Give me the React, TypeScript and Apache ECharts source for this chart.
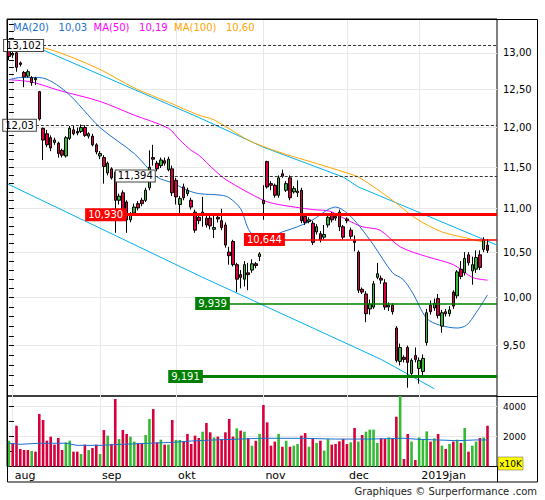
import React, { useEffect, useRef } from "react";
import * as echarts from "echarts";

const FONT = "DejaVu Sans";

// x positions are trading-day indices (0 = 31 Jul 2018)
const monthStartIdx = [1, 24, 44, 67, 89, 108];
const monthLabels = ["aug", "sep", "okt", "nov", "dec", "2019jan"];
const X_MIN = -0.5;
const X_MAX = 128.5;

const PRICE_MIN = 9.0;
const PRICE_MAX = 13.48;
const priceTicks = [9.5, 10, 10.5, 11, 11.5, 12, 12.5, 13];
const priceMinorTicks = [
  9.1, 9.2, 9.3, 9.4, 9.6, 9.7, 9.8, 9.9, 10.1, 10.2, 10.3, 10.4, 10.6, 10.7, 10.8, 10.9,
  11.1, 11.2, 11.3, 11.4, 11.6, 11.7, 11.8, 11.9, 12.1, 12.2, 12.3, 12.4, 12.6, 12.7, 12.8, 12.9,
  13.1, 13.2, 13.3, 13.4,
];
const VOL_MAX = 4700;
const volumeTicks = [2000, 4000];
const volumeMinorTicks = [1000, 3000];

// [open, close, low, high]
const candles = [
  [13.05, 12.95, 12.9, 13.1], [12.97, 12.99, 12.93, 13.02], [13.0, 12.8, 12.74, 13.02], [12.86, 12.84, 12.81, 12.88],
  [12.73, 12.67, 12.53, 12.75], [12.68, 12.74, 12.66, 12.77], [12.66, 12.59, 12.55, 12.68], [12.63, 12.65, 12.56, 12.67],
  [12.47, 12.11, 12.09, 12.48], [11.99, 11.84, 11.59, 12.0], [11.92, 11.78, 11.75, 11.97], [11.87, 11.74, 11.7, 11.9],
  [11.81, 11.84, 11.78, 11.87], [11.8, 11.67, 11.62, 11.82], [11.71, 11.65, 11.62, 11.73], [11.64, 11.87, 11.62, 11.89],
  [11.86, 11.99, 11.84, 12.02], [11.97, 11.92, 11.9, 12.03], [11.95, 11.93, 11.9, 12.0], [11.95, 12.0, 11.93, 12.04],
  [12.0, 11.9, 11.88, 12.03], [11.89, 11.92, 11.86, 11.94], [11.89, 11.78, 11.76, 11.92], [11.78, 11.69, 11.66, 11.8],
  [11.64, 11.67, 11.6, 11.7], [11.62, 11.51, 11.3, 11.65], [11.43, 11.55, 11.4, 11.57], [11.48, 11.37, 11.35, 11.5],
  [11.44, 11.1, 10.72, 11.46], [11.1, 11.15, 11.05, 11.18], [11.19, 10.99, 10.95, 11.22], [11.08, 10.87, 10.72, 11.1],
  [10.87, 10.93, 10.84, 10.96], [10.95, 11.02, 10.92, 11.06], [11.06, 11.01, 10.98, 11.09], [11.1, 11.06, 11.03, 11.13],
  [11.1, 11.22, 11.08, 11.25], [11.25, 11.5, 11.22, 11.71], [11.62, 11.6, 11.52, 11.78], [11.55, 11.48, 11.45, 11.58],
  [11.52, 11.59, 11.49, 11.62], [11.58, 11.55, 11.52, 11.62], [11.47, 11.6, 11.45, 11.63], [11.48, 11.19, 11.15, 11.52],
  [11.34, 11.14, 11.05, 11.37], [11.05, 11.12, 10.93, 11.15], [11.26, 11.13, 11.1, 11.3], [11.18, 11.22, 11.15, 11.25],
  [11.1, 11.02, 10.99, 11.13], [10.96, 10.75, 10.72, 10.99], [10.9, 10.86, 10.82, 10.93], [10.93, 10.96, 10.79, 11.14],
  [10.89, 10.81, 10.78, 10.92], [10.89, 10.8, 10.76, 10.92], [10.76, 10.78, 10.66, 10.94], [10.9, 10.88, 10.84, 10.93],
  [10.86, 10.78, 10.75, 11.0], [10.81, 10.58, 10.55, 10.84], [10.5, 10.46, 10.36, 10.56], [10.62, 10.36, 10.34, 10.64],
  [10.36, 10.2, 10.06, 10.38], [10.25, 10.22, 10.1, 10.3], [10.2, 10.36, 10.12, 10.4], [10.27, 10.25, 10.08, 10.38],
  [10.3, 10.37, 10.27, 10.42], [10.37, 10.35, 10.32, 10.39], [10.45, 10.48, 10.4, 10.5], [11.1, 11.06, 10.87, 11.28],
  [11.57, 11.26, 11.24, 11.58], [11.3, 11.28, 11.22, 11.33], [11.28, 11.16, 11.13, 11.3], [11.16, 11.37, 11.13, 11.4],
  [11.42, 11.39, 11.37, 11.47], [11.22, 11.3, 11.2, 11.33], [11.37, 11.13, 11.1, 11.4], [11.2, 11.24, 11.18, 11.27],
  [11.19, 11.21, 11.14, 11.34], [11.22, 10.86, 10.83, 11.25], [10.91, 10.84, 10.81, 10.94], [10.85, 10.87, 10.83, 10.9],
  [10.83, 10.61, 10.58, 10.86], [10.73, 10.79, 10.7, 10.82], [10.71, 10.64, 10.61, 10.74], [10.67, 10.7, 10.64, 10.81],
  [10.81, 10.9, 10.78, 10.93], [10.93, 10.87, 10.84, 10.96], [10.91, 10.89, 10.86, 10.94], [10.96, 10.79, 10.74, 10.99],
  [10.79, 10.67, 10.64, 10.81], [10.88, 10.86, 10.83, 10.9], [10.75, 10.68, 10.65, 10.78], [10.63, 10.61, 10.51, 10.69],
  [10.5, 10.08, 10.05, 10.52], [10.09, 10.06, 10.04, 10.11], [10.04, 9.83, 9.74, 10.07], [9.88, 9.93, 9.82, 9.98],
  [9.9, 10.15, 9.88, 10.18], [10.22, 10.26, 10.2, 10.38], [10.21, 10.19, 10.15, 10.24], [10.16, 9.9, 9.87, 10.2],
  [9.9, 9.92, 9.86, 9.95], [9.92, 9.85, 9.82, 9.94], [9.68, 9.35, 9.33, 9.7], [9.34, 9.48, 9.3, 9.52],
  [9.38, 9.36, 9.33, 9.4], [9.48, 9.33, 9.08, 9.5], [9.22, 9.35, 9.2, 9.37], [9.4, 9.36, 9.33, 9.48],
  [9.27, 9.35, 9.12, 9.38], [9.24, 9.37, 9.2, 9.41], [9.53, 9.84, 9.5, 9.88], [9.92, 9.85, 9.82, 9.97],
  [9.89, 9.94, 9.86, 9.99], [9.99, 9.81, 9.78, 10.04], [9.7, 9.84, 9.63, 9.87], [9.85, 9.83, 9.8, 9.88],
  [9.83, 9.87, 9.8, 9.91], [10.06, 9.91, 9.88, 10.08], [10.02, 10.28, 9.99, 10.3], [10.31, 10.23, 10.2, 10.4],
  [10.27, 10.43, 10.24, 10.5], [10.47, 10.38, 10.35, 10.5], [10.29, 10.36, 10.14, 10.45], [10.31, 10.44, 10.27, 10.52],
  [10.47, 10.33, 10.3, 10.52], [10.53, 10.64, 10.5, 10.67], [10.58, 10.52, 10.49, 10.65],
];

// volume in units of 10K shares
const volumes = [
  1720, 1570, 2720, 1170, 1100, 1100, 1030, 990, 3500, 3100,
  1720, 1990, 1460, 1900, 1100, 1610, 1720, 990, 990, 830,
  1460, 1100, 1230, 1460, 830, 2430, 2060, 1500, 4500, 1830,
  2430, 2170, 1990, 1660, 1570, 1570, 2100, 3170, 3830, 1610,
  1790, 1460, 1460, 3100, 1770, 1770, 1680, 2170, 1500, 2060,
  1900, 2320, 2900, 2280, 1940, 1990, 1830, 2280, 3170, 1990,
  2540, 2390, 2320, 1900, 1390, 1720, 2170, 4100, 2940, 1390,
  1660, 2170, 1320, 1720, 1320, 1390, 1500, 2060, 2230, 1320,
  1830, 1570, 1720, 1060, 1830, 1460, 1500, 1680, 1830, 1500,
  1610, 2570, 1660, 2100, 2320, 2460, 2460, 1570, 1880, 1830,
  1940, 1880, 3320, 4830, 500, 2170, 1660, 430, 1940, 1830,
  2340, 1660, 1880, 2170, 1390, 1170, 1500, 1660, 1790, 1570,
  2570, 990, 1390, 1660, 1900, 1940, 2720,
];
// g = up day, r = down day
const volumeDirs = (
  "grrrrrgrrr" + "rrrrrggrrg" + "rgrrgrgrrg" + "rrggrrggrr" + "grgrggrrrr" +
  "rgrrgrrrrr" + "grgrgrgrrr" + "rgrgrggrrg" + "rgrggrrrrr" + "grgrggggrr" +
  "grrgrrgrgg" + "grgrgrgrgr" + "grggrgr"
).split("");

const volumeMA = [
  [0, 1550], [3, 1480], [8, 1550], [15, 1550], [18, 1410], [24, 1410], [30, 1480], [37, 1550],
  [43, 1610], [48, 1700], [54, 1770], [59, 1810], [66, 1880], [71, 1880], [77, 1880], [86, 1830],
  [95, 1830], [104, 1880], [108, 1810], [113, 1770], [118, 1720], [123, 1770], [126, 1770],
];

const ma20 = [
  [0, 12.63], [3, 12.66], [8, 12.66], [15, 12.47], [24, 12.0], [33, 11.67], [39, 11.38], [43, 11.31],
  [47, 11.22], [50, 11.18], [56, 11.16], [58, 11.13], [61, 11.0], [63.5, 10.73], [67, 10.65], [72, 10.73],
  [76, 10.79], [80, 10.87], [84, 10.99], [86, 11.02], [89, 10.95], [92.4, 10.79], [96, 10.58], [101, 10.27],
  [103.7, 10.2], [106.3, 10.05], [110, 9.78], [113.4, 9.71], [118, 9.68], [120.5, 9.71], [123, 9.84], [126, 10.03],
];
const ma50 = [
  [0, 12.63], [6, 12.6], [13, 12.49], [24, 12.34], [33, 12.16], [42, 11.99], [45, 11.84], [48, 11.71],
  [50, 11.65], [54, 11.47], [57.4, 11.34], [67, 11.1], [71, 11.05], [80, 10.99], [84.5, 10.97], [89, 10.87],
  [93, 10.79], [97.7, 10.75], [103, 10.56], [110, 10.45], [117, 10.36], [122, 10.22], [126, 10.19],
];
const ma100 = [
  [0, 13.13], [9, 13.07], [15, 12.97], [24, 12.77], [33, 12.52], [42, 12.33], [50, 12.16], [54, 12.1],
  [63, 11.84], [71, 11.69], [80, 11.56], [89, 11.43], [92.4, 11.37], [101, 11.1], [107, 10.89], [114, 10.73],
  [120.5, 10.66], [126, 10.6],
];
const channelUpper = [[-0.5, 13.16], [9, 13.04], [50, 12.13], [67, 11.75], [88, 11.38], [92, 11.26], [128.5, 10.58]];
const channelLower = [[-0.5, 11.3], [51, 10.22], [98, 9.36], [112, 9.07]];

// horizontal levels and the trading day from which each is drawn
const levelValues = ["13.102", "12.03", "11.394", "10.930", "10.644", "9.939", "9.191"];
const levelStart = [9, 7.1, 38.4, 30.6, 72.4, 57.9, 50.8];

const C20 = "#1a70d0";
const C50 = "#ff00ff";
const C100 = "#ffa500";
const CCH = "#00b0f0";
const UP = "#33bb33";
const DOWN = "#d8003c";
const GRID = "#e8e8e8";

const comma = (s: string) => s.replace(".", ",");
const fmt2 = (v: number) => comma(v.toFixed(2));
const last = (a: number[][]) => a[a.length - 1][1];
const lnPairs = (a: number[][]) => a.map(([i, v]) => [i, Math.log(v)]);

const levelStyles = [
  { kind: "dash" }, { kind: "dash" }, { kind: "dash" },
  { kind: "red", w: 3 }, { kind: "red", w: 1.5 }, { kind: "green", w: 1.5 }, { kind: "green", w: 3 },
];

function buildOption() {
  const lnMin = Math.log(PRICE_MIN);
  const lnMax = Math.log(PRICE_MAX);
  const lnTicks = priceTicks.map(Math.log);
  const lnMinor = priceMinorTicks.map(Math.log);

  const markData = levelValues.map((s, k) => {
    const v = parseFloat(s);
    const st = levelStyles[k];
    const isDash = st.kind === "dash";
    const col = st.kind === "red" ? "#ff0000" : st.kind === "green" ? "#008000" : "#333";
    return [
      {
        coord: [levelStart[k], Math.log(v)],
        lineStyle: isDash
          ? { color: "#333", width: 1, type: [3, 2] }
          : { color: col, width: st.w, type: "solid" },
        label: {
          show: true,
          position: "start",
          distance: 0,
          formatter: comma(s),
          fontFamily: FONT,
          fontSize: 10,
          color: isDash ? "#000" : "#fff",
          backgroundColor: isDash ? "#fff" : col,
          borderColor: isDash ? "#444" : col,
          borderWidth: 1,
          padding: [1, 2, 0, 2],
        },
      },
      { coord: [X_MAX, Math.log(v)] },
    ];
  });

  const lineSeries = (name: string, data: number[][], color: string, extra: any = {}) => ({
    name,
    type: "line",
    xAxisIndex: 0,
    yAxisIndex: 0,
    data: lnPairs(data),
    showSymbol: false,
    symbol: "none",
    smooth: 0.3,
    lineStyle: { color, width: 1 },
    z: 2,
    silent: true,
    ...extra,
  });

  const legendText =
    `{a|MA(20)   ${fmt2(last(ma20))}}  {b|MA(50)   ${fmt2(last(ma50))}}  {c|MA(100)   ${fmt2(last(ma100))}}`;

  return {
    animation: false,
    backgroundColor: "#fff",
    grid: [
      { left: 7, top: 19, width: 490, height: 377, show: true, borderColor: "#000", borderWidth: 1, backgroundColor: "transparent" },
      { left: 7, top: 396, width: 490, height: 70.5, show: true, borderColor: "#000", borderWidth: 1, backgroundColor: "transparent" },
    ],
    xAxis: [
      {
        gridIndex: 0, type: "value", min: X_MIN, max: X_MAX,
        axisLine: { show: false },
        axisTick: { show: false, customValues: monthStartIdx },
        axisLabel: { show: false },
        splitLine: { show: true, lineStyle: { color: GRID, width: 1 } },
      },
      {
        gridIndex: 1, type: "value", min: X_MIN, max: X_MAX,
        axisLine: { show: false },
        axisTick: { show: false, customValues: monthStartIdx },
        axisLabel: {
          show: true,
          customValues: monthStartIdx,
          formatter: (v: number) => monthLabels[monthStartIdx.indexOf(Math.round(v))] || "",
          align: "left",
          margin: 3,
          padding: [0, 0, 0, 2],
          fontSize: 11,
          fontFamily: FONT,
          color: "#000",
        },
        splitLine: { show: true, lineStyle: { color: GRID, width: 1 } },
      },
    ],
    yAxis: [
      {
        gridIndex: 0, type: "value", position: "right", min: lnMin, max: lnMax,
        axisLine: { show: false },
        axisTick: { show: true, length: 5, customValues: [...lnTicks, ...lnMinor], lineStyle: { color: "#000" } },
        axisLabel: {
          customValues: lnTicks,
          formatter: (v: number) => fmt2(Math.exp(v)),
          margin: 6, fontSize: 10, fontFamily: FONT, color: "#000",
        },
        splitLine: { show: false },
      },
      {
        gridIndex: 0, type: "value", position: "left", min: lnMin, max: lnMax,
        axisLine: { show: false },
        axisTick: { show: false, customValues: lnTicks },
        axisLabel: { show: false },
        splitLine: { show: true, lineStyle: { color: GRID, width: 1 } },
      },
      {
        gridIndex: 1, type: "value", position: "right", min: 0, max: VOL_MAX,
        axisLine: { show: false },
        axisTick: { show: true, length: 5, customValues: [...volumeTicks, ...volumeMinorTicks], lineStyle: { color: "#000" } },
        axisLabel: {
          customValues: volumeTicks,
          formatter: (v: number) => String(Math.round(v)),
          margin: 6, fontSize: 9, fontFamily: FONT, color: "#000",
        },
        splitLine: { show: false },
      },
      {
        gridIndex: 1, type: "value", position: "left", min: 0, max: VOL_MAX,
        axisLine: { show: false },
        axisTick: { show: false, customValues: volumeTicks },
        axisLabel: { show: false },
        splitLine: { show: true, lineStyle: { color: GRID, width: 1 } },
      },
    ],
    series: [
      lineSeries("channelUpper", channelUpper, CCH, { smooth: false }),
      lineSeries("channelLower", channelLower, CCH, { smooth: false }),
      lineSeries("MA100", ma100, C100, {
        markLine: { silent: true, symbol: ["none", "none"], animation: false, data: markData },
      }),
      lineSeries("MA50", ma50, C50),
      lineSeries("MA20", ma20, C20),
      {
        name: "price",
        type: "candlestick",
        xAxisIndex: 0,
        yAxisIndex: 0,
        barWidth: 3,
        z: 3,
        silent: true,
        dimensions: ["x", "open", "close", "low", "high"],
        encode: { x: "x", y: ["open", "close", "low", "high"] },
        data: candles.map((c, i) => [i, ...c.map(Math.log)]),
        itemStyle: { color: UP, color0: DOWN, borderColor: "#000", borderColor0: "#000", borderWidth: 1 },
      },
      {
        name: "volume",
        type: "bar",
        xAxisIndex: 1,
        yAxisIndex: 2,
        barWidth: 2.6,
        silent: true,
        data: volumes.map((v, i) => ({
          value: [i, v],
          itemStyle: { color: volumeDirs[i] === "g" ? UP : DOWN },
        })),
      },
      {
        name: "volumeMA",
        type: "line",
        xAxisIndex: 1,
        yAxisIndex: 2,
        data: volumeMA,
        symbol: "none",
        lineStyle: { color: C20, width: 1 },
        silent: true,
        z: 4,
      },
    ],
    graphic: [
      { type: "rect", silent: true, z: 100, shape: { x: 7.5, y: 19.5, width: 530, height: 462.5 }, style: { fill: "none", stroke: "#000", lineWidth: 1 } },
      { type: "line", silent: true, z: 100, shape: { x1: 497.5, y1: 466, x2: 497.5, y2: 482 }, style: { stroke: "#000", lineWidth: 1 } },
      { type: "line", silent: true, z: 100, shape: { x1: 497, y1: 396.5, x2: 538, y2: 396.5 }, style: { stroke: "#000", lineWidth: 1 } },
      {
        type: "text", silent: true, z: 101, x: 13, y: 27,
        style: {
          text: legendText,
          font: `10px "${FONT}"`,
          fill: "#000",
          verticalAlign: "middle",
          textVerticalAlign: "middle",
          align: "left",
          textAlign: "left",
          rich: {
            a: { fill: C20, fontSize: 10, fontFamily: FONT },
            b: { fill: C50, fontSize: 10, fontFamily: FONT },
            c: { fill: C100, fontSize: 10, fontFamily: FONT },
          },
        },
      },
      { type: "rect", silent: true, z: 100, shape: { x: 498, y: 457, width: 25, height: 13 }, style: { fill: "#ffff00", stroke: "#555", lineWidth: 0.5 } },
      { type: "text", silent: true, z: 101, x: 510.5, y: 463.5, style: { text: "x10K", fill: "#000", font: `9px "${FONT}"`, align: "center", verticalAlign: "middle", textAlign: "center", textVerticalAlign: "middle" } },
      { type: "text", silent: true, z: 101, x: 537, y: 491, style: { text: "Graphiques © Surperformance .com", fill: "#222", font: `10px "${FONT}"`, align: "right", verticalAlign: "middle", textAlign: "right", textVerticalAlign: "middle" } },
    ],
  };
}

export default function App() {
  const ref = useRef<HTMLDivElement | null>(null);
  useEffect(() => {
    if (!ref.current) return;
    const chart = echarts.init(ref.current, undefined, { renderer: "svg", width: 545, height: 500 });
    chart.setOption(buildOption() as any);
    return () => chart.dispose();
  }, []);
  return (
    <div
      ref={ref}
      style={{ position: "fixed", left: 0, top: 0, width: 545, height: 500, background: "#fff" }}
    />
  );
}
